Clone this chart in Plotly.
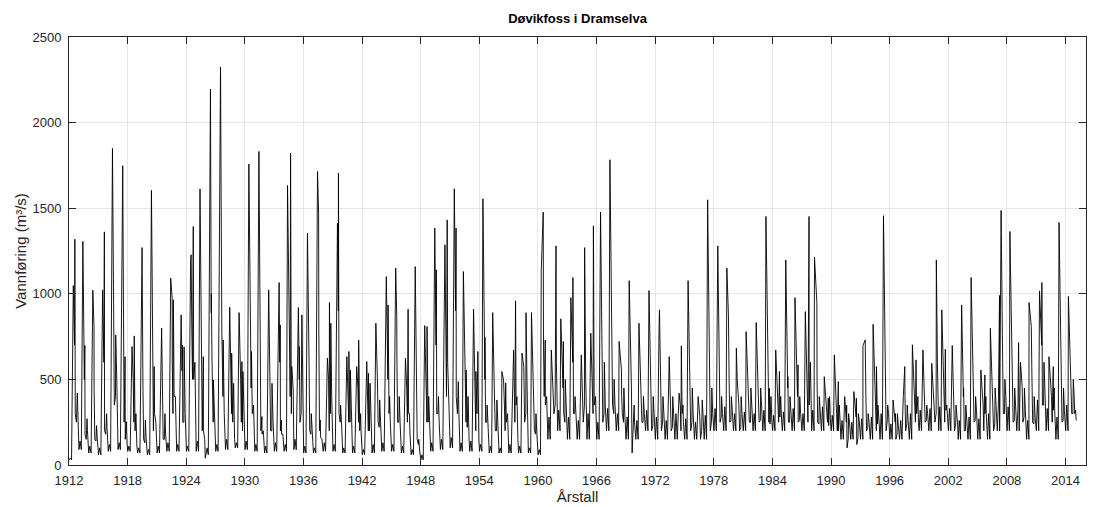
import plotly.graph_objects as go

# -----------------------------
# Data (one entry per year, 1912-2014)
# p1/p2 = spring flood peaks, aut = autumn peak, *_t = fraction of year
# other arrays = typical flow at fixed points of the year
# -----------------------------
years = list(range(1912, 2015))

p1_q = [1319, 1306, 1021, 1362, 1849, 1748, 754, 1270, 1604, 799,
        1091, 877, 1228, 1613, 2196, 2325, 922, 890, 1758, 1832,
        1023, 1066, 1633, 920, 1354, 1715, 624, 1413, 633, 575,
        604, 828, 1101, 1150, 624, 1159, 814, 1384, 1286, 1613,
        1130, 910, 1555, 890, 546, 672, 653, 890, 1136, 672,
        854, 978, 643, 770, 1477, 1783, 721, 1077, 828, 1019,
        906, 633, 419, 1077, 400, 1549, 1280, 1150, 682, 779,
        832, 1452, 672, 1198, 978, 896, 1214, 516, 643, 400,
        429, 698, 822, 1456, 380, 575, 702, 672, 594, 906,
        698, 935, 1095, 555, 799, 1487, 1364, 715, 949, 1017,
        633, 1417, 985]
p1_t = [.60, .42, .44, .62, .45, .50, .68, .48, .44, .48,
        .41, .48, .50, .41, .48, .51, .45, .41, .41, .44,
        .44, .51, .37, .48, .41, .44, .45, .48, .44, .45,
        .48, .41, .48, .44, .44, .44, .41, .44, .48, .44,
        .37, .41, .37, .37, .31, .51, .37, .34, .34, .37,
        .34, .37, .44, .41, .41, .37, .31, .34, .34, .37,
        .44, .44, .45, .37, .40, .37, .41, .34, .31, .31,
        .34, .34, .34, .37, .31, .37, .31, .31, .34, .40,
        .34, .27, .31, .37, .35, .55, .33, .41, .31, .34,
        .41, .37, .34, .34, .31, .41, .31, .20, .27, .34,
        .31, .34, .30]
p2_q = [1048, 698, 809, 1023, 1276, 633, 692, 400, 780, 400,
        974, 700, 1198, 575, 887, 1481, 653, 604, 1111, 516,
        516, 818, 1822, 692, 1120, 1471, 949, 1705, 663, 730,
        536, 575, 935, 867, 910, 575, 809, 1140, 1081, 1384,
        555, 546, 746, 400, 497, 959, 575, 575, 1477, 450,
        721, 1095, 400, 500, 500, 774, 555, 800, 497, 438,
        799, 350, 696, 400, 300, 400, 848, 871, 500, 419,
        400, 448, 546, 516, 585, 500, 949, 390, 487, 350,
        390, 731, 575, 400, 300, 400, 614, 500, 400, 676,
        400, 400, 575, 526, 400, 990, 500, 600, 809, 1066,
        575, 400, 600]
p2_t = [.44, .62, .56, .44, .52, .74, .45, .58, .62, .58,
        .56, .62, .45, .62, .56, .56, .65, .70, .55, .58,
        .58, .62, .68, .58, .48, .55, .66, .58, .65, .65,
        .65, .55, .66, .55, .71, .55, .65, .60, .55, .62,
        .65, .65, .58, .50, .48, .71, .55, .48, .54, .55,
        .60, .58, .60, .55, .60, .60, .55, .45, .50, .55,
        .40, .60, .68, .55, .55, .55, .48, .50, .40, .55,
        .55, .68, .72, .58, .62, .50, .55, .72, .75, .60,
        .60, .50, .65, .55, .60, .40, .70, .50, .50, .70,
        .55, .55, .50, .75, .55, .25, .55, .40, .50, .58,
        .75, .55, .50]
aut_q = [420, 270, 230, 300, 760, 253, 300, 263, 575, 300,
         965, 690, 1393, 633, 497, 730, 477, 546, 663, 283,
         477, 263, 575, 877, 300, 263, 828, 350, 555, 300,
         477, 380, 400, 400, 300, 150, 400, 400, 1432, 487,
         400, 663, 350, 380, 480, 400, 890, 300, 730, 1280,
         500, 400, 1270, 1397, 600, 500, 450, 350, 400, 400,
         400, 400, 350, 450, 380, 450, 400, 400, 400, 450,
         450, 400, 400, 400, 400, 1452, 400, 400, 350, 300,
         300, 300, 350, 350, 300, 350, 350, 350, 1198, 350,
         350, 350, 400, 400, 450, 500, 450, 450, 400, 600,
         450, 450, 500]
aut_t = [.85, .85, .82, .85, .78, .86, .85, .82, .72, .82,
         .68, .78, .72, .75, .78, .78, .85, .80, .68, .75,
         .78, .75, .80, .84, .80, .72, .80, .80, .80, .85,
         .82, .80, .82, .80, .85, .80, .82, .82, .71, .85,
         .85, .85, .80, .80, .70, .85, .78, .80, .75, .85,
         .80, .80, .78, .68, .80, .80, .80, .85, .80, .80,
         .80, .80, .85, .80, .82, .80, .80, .80, .80, .80,
         .80, .85, .85, .80, .80, .75, .80, .85, .85, .80,
         .80, .80, .80, .80, .80, .80, .85, .80, .78, .85,
         .80, .80, .80, .85, .80, .80, .80, .80, .80, .80,
         .85, .80, .80]
winter_q = [30, 90, 70, 60, 80, 90, 80, 70, 60, 70,
            80, 80, 80, 80, 60, 80, 90, 100, 90, 80,
            70, 80, 80, 90, 70, 70, 80, 80, 70, 70,
            60, 70, 80, 80, 70, 60, 30, 80, 90, 100,
            80, 80, 80, 70, 70, 70, 70, 70, 60, 150,
            200, 150, 150, 150, 150, 200, 200, 150, 150, 200,
            150, 150, 150, 150, 150, 150, 200, 200, 200, 200,
            200, 200, 200, 200, 200, 200, 200, 200, 200, 150,
            150, 150, 150, 150, 150, 150, 150, 200, 200, 200,
            200, 150, 150, 150, 150, 200, 200, 200, 150, 200,
            200, 150, 200]
jan_q = [40, 140, 110, 100, 120, 130, 110, 100, 90, 110,
         130, 120, 110, 140, 100, 120, 150, 130, 140, 120,
         110, 130, 120, 150, 110, 100, 130, 120, 100, 110,
         90, 120, 130, 120, 110, 90, 60, 130, 150, 160,
         130, 140, 120, 110, 100, 120, 110, 100, 90, 280,
         320, 280, 260, 300, 250, 330, 300, 280, 260, 320,
         280, 260, 300, 270, 250, 290, 330, 340, 300, 310,
         300, 320, 290, 310, 330, 300, 320, 340, 290, 260,
         250, 270, 280, 300, 240, 260, 300, 320, 330, 340,
         330, 260, 280, 270, 300, 350, 340, 320, 260, 380,
         330, 280, 350]
june_q = [700, 500, 450, 600, 800, 900, 500, 450, 700, 450,
          600, 550, 800, 700, 1000, 1100, 550, 500, 700, 600,
          550, 600, 900, 500, 600, 800, 500, 900, 450, 450,
          400, 500, 600, 600, 450, 400, 500, 700, 800, 900,
          450, 400, 500, 350, 350, 500, 400, 400, 700, 400,
          450, 600, 350, 400, 550, 600, 400, 450, 350, 400,
          450, 300, 350, 450, 280, 500, 500, 500, 350, 400,
          400, 450, 350, 450, 400, 400, 500, 300, 300, 250,
          280, 400, 400, 450, 250, 400, 400, 400, 350, 450,
          400, 450, 500, 350, 400, 600, 500, 450, 500, 700,
          400, 500, 450]
summer_q = [300, 180, 150, 200, 350, 250, 250, 150, 200, 150,
            300, 250, 500, 200, 600, 800, 300, 250, 450, 200,
            200, 200, 400, 250, 200, 200, 200, 300, 250, 250,
            200, 250, 500, 250, 250, 150, 250, 300, 400, 400,
            250, 200, 250, 200, 200, 250, 250, 200, 400, 300,
            300, 300, 250, 300, 250, 350, 300, 70, 250, 200,
            200, 200, 200, 200, 150, 200, 250, 250, 200, 250,
            250, 250, 250, 250, 250, 250, 250, 250, 200, 100,
            120, 200, 200, 200, 150, 200, 250, 250, 250, 250,
            200, 200, 250, 200, 200, 300, 250, 250, 250, 350,
            250, 250, 300]
sept_q = [250, 150, 140, 180, 400, 150, 200, 130, 300, 150,
          400, 250, 500, 200, 250, 400, 250, 200, 300, 180,
          200, 180, 300, 300, 180, 160, 300, 250, 250, 200,
          200, 220, 300, 250, 300, 120, 250, 300, 600, 300,
          220, 300, 250, 200, 250, 350, 300, 180, 350, 350,
          250, 300, 350, 350, 300, 300, 250, 220, 250, 230,
          250, 220, 300, 250, 200, 250, 280, 260, 220, 250,
          260, 240, 280, 250, 260, 350, 240, 230, 200, 150,
          160, 220, 240, 260, 180, 240, 300, 260, 300, 320,
          240, 200, 260, 300, 240, 300, 260, 280, 240, 350,
          320, 260, 300]
nov_q = [300, 200, 160, 220, 500, 180, 200, 160, 250, 180,
         400, 300, 600, 150, 250, 300, 300, 350, 350, 200,
         250, 180, 500, 500, 180, 150, 400, 250, 300, 200,
         250, 220, 250, 250, 200, 80, 250, 250, 400, 350,
         250, 400, 250, 250, 300, 250, 450, 180, 400, 600,
         350, 300, 500, 400, 350, 350, 300, 250, 300, 300,
         300, 300, 250, 300, 280, 300, 300, 320, 300, 350,
         350, 300, 300, 320, 300, 600, 320, 300, 270, 250,
         260, 250, 280, 300, 230, 260, 400, 300, 600, 300,
         280, 260, 320, 300, 350, 400, 350, 320, 280, 450,
         330, 320, 400]
late_q = [130, 110, 90, 100, 300, 120, 110, 90, 100, 90,
          200, 150, 300, 40, 120, 150, 150, 200, 250, 120,
          120, 100, 438, 200, 100, 100, 120, 150, 150, 120,
          100, 120, 150, 150, 120, 40, 150, 150, 200, 200,
          150, 150, 150, 120, 100, 150, 150, 100, 200, 300,
          200, 200, 250, 250, 250, 250, 250, 200, 200, 200,
          200, 200, 200, 200, 200, 200, 250, 250, 250, 250,
          250, 250, 250, 250, 250, 300, 250, 250, 200, 200,
          200, 200, 200, 250, 200, 200, 250, 250, 300, 250,
          250, 200, 250, 250, 250, 300, 250, 250, 250, 300,
          250, 250, 300]

# last few readings, January 2015
end_t = [2015.03, 2015.10]
end_q = [320, 260]

x_ticks = list(range(1912, 2015, 6))
x_labels = [str(v) for v in x_ticks]
y_ticks = [0, 500, 1000, 1500, 2000, 2500]

# -----------------------------
# Build the time series
# -----------------------------
t, q = [], []
for i, yr in enumerate(years):
    pts = [(0.02, winter_q[i]), (0.13, jan_q[i]), (0.26, winter_q[i]),
           (p1_t[i], p1_q[i]), (p2_t[i], p2_q[i]), (0.57, june_q[i]),
           (0.64, summer_q[i]), (0.76, sept_q[i]), (aut_t[i], aut_q[i]),
           (0.89, nov_q[i]), (0.95, late_q[i])]
    pts.sort()
    for f, v in pts:
        t.append(yr + f)
        q.append(v)
t += end_t
q += end_q

# -----------------------------
# Create chart
# -----------------------------
fig = go.Figure()

fig.add_trace(go.Scatter(
    x=t,
    y=q,
    mode="lines",
    line=dict(color="black", width=0.9),
    showlegend=False
))

axis_style = dict(
    showline=True,
    mirror="ticks",
    linecolor="#262626",
    linewidth=1,
    ticks="inside",
    ticklen=7,
    tickcolor="#262626",
    showgrid=True,
    gridcolor="#e6e6e6",
    zeroline=False,
    tickfont=dict(size=13, color="#262626"),
)

fig.update_layout(
    width=1099,
    height=507,
    margin=dict(l=55, r=21, t=29, b=50),
    paper_bgcolor="white",
    plot_bgcolor="white",
    font=dict(family="Liberation Sans, Arial, sans-serif", color="#262626"),
    title=dict(
        text="<b>Døvikfoss i Dramselva</b>",
        x=0.5, xref="paper", xanchor="center",
        y=1 - 10 / 507, yref="container", yanchor="middle",
        font=dict(size=13, color="black"),
    ),
    xaxis=dict(
        axis_style,
        range=[1912, 2016.1],
        tickvals=x_ticks,
        ticktext=x_labels,
        ticklabelstandoff=3,
        title=dict(text="Årstall", font=dict(size=15), standoff=0),
    ),
    yaxis=dict(
        axis_style,
        range=[0, 2500],
        tickvals=y_ticks,
        ticklabelstandoff=4,
        title=dict(text="Vannføring (m³/s)", font=dict(size=15), standoff=2),
    ),
)

fig.write_html("out.html")
